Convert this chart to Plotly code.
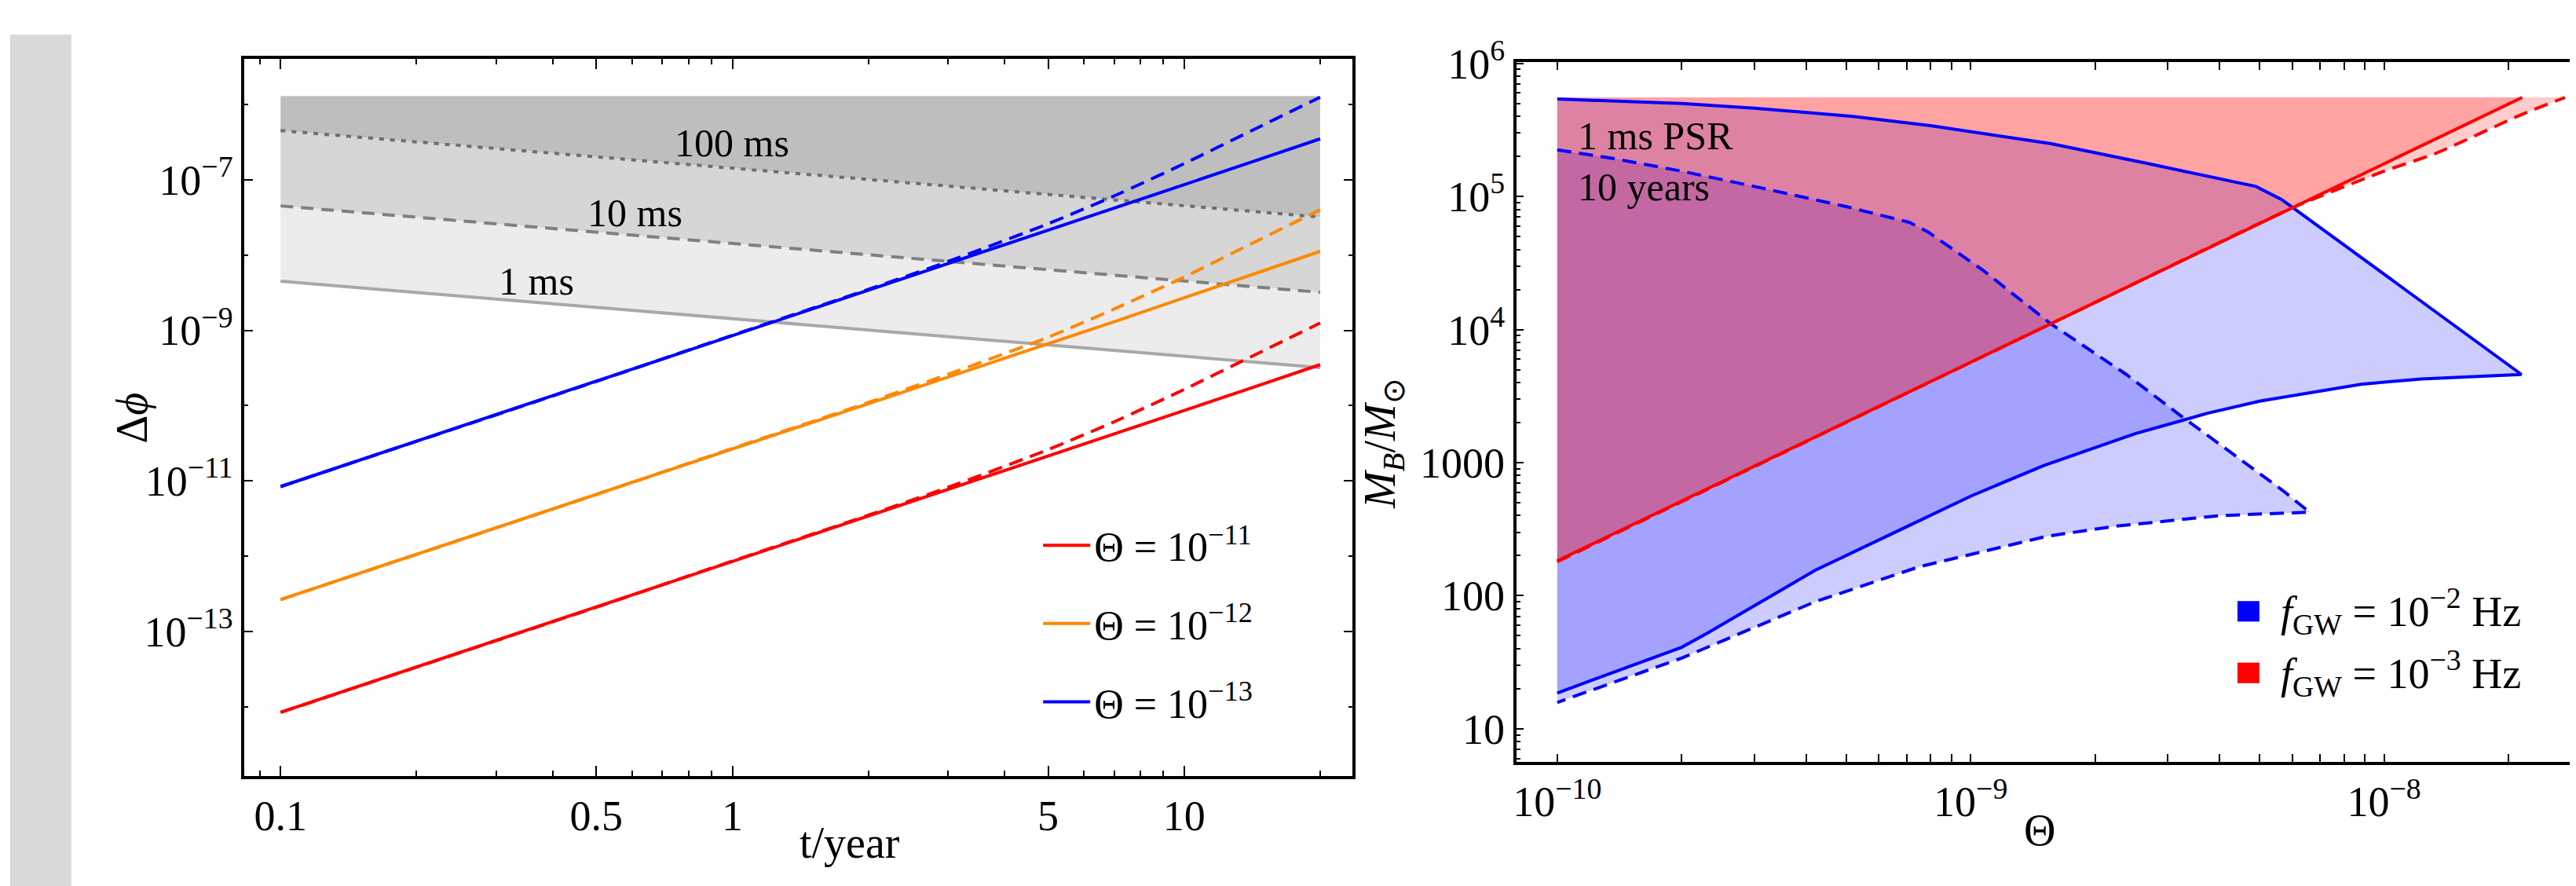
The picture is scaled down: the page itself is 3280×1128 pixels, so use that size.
import plotly.graph_objects as go

# ---------------- Left panel data ----------------
t_grid = [0.1, 0.5, 1, 2, 3, 5, 7, 10, 14, 20]
phi_blue_solid = [8.4e-12, 2.1e-10, 8.5e-10, 3.4e-9, 7.6e-9, 2.1e-8, 4.2e-8, 8.6e-8, 1.7e-7, 3.5e-7]
phi_blue_dashed = [8.4e-12, 2.1e-10, 8.6e-10, 3.5e-9, 8.2e-9, 2.6e-8, 6.1e-8, 1.64e-7, 4.4e-7, 1.25e-6]
phi_orange_solid = [2.65e-13, 6.6e-12, 2.7e-11, 1.07e-10, 2.4e-10, 6.6e-10, 1.3e-9, 2.7e-9, 5.4e-9, 1.12e-8]
phi_orange_dashed = [2.65e-13, 6.6e-12, 2.7e-11, 1.1e-10, 2.6e-10, 8.1e-10, 1.92e-9, 5.1e-9, 1.39e-8, 4.0e-8]
phi_red_solid = [8.4e-15, 2.1e-13, 8.5e-13, 3.4e-12, 7.6e-12, 2.1e-11, 4.2e-11, 8.6e-11, 1.7e-10, 3.5e-10]
phi_red_dashed = [8.4e-15, 2.1e-13, 8.6e-13, 3.5e-12, 8.2e-12, 2.6e-11, 6.1e-11, 1.64e-10, 4.4e-10, 1.25e-9]

t_band = [0.1, 20]
band_top = [1.3e-6, 1.3e-6]
tol_100ms = [4.5e-7, 3.2e-8]
tol_10ms = [4.5e-8, 3.2e-9]
tol_1ms = [4.5e-9, 3.2e-10]

left_legend_names = ["Θ = 10<sup>−11</sup>", "Θ = 10<sup>−12</sup>", "Θ = 10<sup>−13</sup>"]
left_xticks = [0.1, 0.5, 1, 5, 10]
left_xticktext = ["0.1", "0.5", "1", "5", "10"]
left_xminor = [0.09, 0.2, 0.3, 0.4, 0.6, 0.7, 0.8, 0.9, 2, 3, 4, 6, 7, 8, 9, 20]
left_yticks = [1e-13, 1e-11, 1e-9, 1e-7]
left_yticktext = ["10<sup>−13</sup>", "10<sup>−11</sup>", "10<sup>−9</sup>", "10<sup>−7</sup>"]
left_yminor = [1e-14, 1e-12, 1e-10, 1e-8, 1e-6]

# ---------------- Right panel data ----------------
theta_blue_up = [1e-10, 2e-10, 3e-10, 5.2e-10, 8e-10, 1.56e-9, 2.7e-9, 4.9e-9, 5.65e-9, 6.1e-9, 2.15e-8]
M_blue_up = [5.4e5, 5.0e5, 4.6e5, 4.0e5, 3.4e5, 2.5e5, 1.76e5, 1.19e5, 9.5e4, 8.0e4, 4.6e3]
theta_blue_low = [2.15e-8, 1.23e-8, 8.8e-9, 5e-9, 3.74e-9, 2.5e-9, 1.5e-9, 1e-9, 7e-10, 4.2e-10, 2.3e-10, 2e-10, 1e-10]
M_blue_low = [4.6e3, 4.26e3, 3.88e3, 2.9e3, 2.35e3, 1.65e3, 9.5e2, 5.6e2, 3.3e2, 1.55e2, 5.2e1, 4.1e1, 1.86e1]

theta_bd_up = [1e-10, 1.38e-10, 2e-10, 3e-10, 5e-10, 7.1e-10, 7.9e-10, 1.07e-9, 1.56e-9, 2.38e-9, 3.2e-9, 5.7e-9, 6.6e-9]
M_bd_up = [2.24e5, 1.92e5, 1.55e5, 1.19e5, 8.4e4, 6.4e4, 5.4e4, 2.8e4, 1.11e4, 4.6e3, 2.29e3, 6.15e2, 4.25e2]
theta_bd_low = [6.6e-9, 4e-9, 2.24e-9, 1.53e-9, 7.5e-10, 4.2e-10, 2e-10, 1e-10]
M_bd_low = [4.25e2, 4.0e2, 3.33e2, 2.8e2, 1.65e2, 9.0e1, 3.4e1, 1.58e1]

theta_red_solid = [1e-10, 2.16e-8]
M_red_solid = [1.83e2, 5.55e5]
theta_red_dashed = [1e-10, 2e-9, 6.1e-9, 1e-8, 1.33e-8, 2.14e-8, 2.74e-8]
M_red_dashed = [1.80e2, 1.6e4, 8.4e4, 1.55e5, 2.1e5, 4.1e5, 5.55e5]
M_region_top = 5.55e5

right_legend_names = ["<i>f</i><sub>GW</sub> = 10<sup>−2</sup> Hz", "<i>f</i><sub>GW</sub> = 10<sup>−3</sup> Hz"]
right_xticks = [1e-10, 1e-9, 1e-8]
right_xticktext = ["10<sup>−10</sup>", "10<sup>−9</sup>", "10<sup>−8</sup>"]
right_xminor = [k * 1e-10 for k in range(2, 10)] + [k * 1e-9 for k in range(2, 10)] + [2e-8]
right_yticks = [10, 100, 1000, 1e4, 1e5, 1e6]
right_yticktext = ["10", "100", "1000", "10<sup>4</sup>", "10<sup>5</sup>", "10<sup>6</sup>"]
right_yminor = [k * 10 ** e for e in range(0, 6) for k in range(2, 10)]

# ---------------- Styling ----------------
W, H = 3280, 1128
FONT = "Liberation Serif"
BLUE, ORANGE, RED = "#0000ff", "#ff8800", "#ff0000"
BLUE_FILL, RED_FILL = "rgba(0,0,255,0.2)", "rgba(255,0,0,0.2)"
LW = 4
DASH = "18px,10px"

fig = go.Figure()

# Gray tolerance bands
fig.add_trace(go.Scatter(x=t_band, y=band_top, mode="lines", line=dict(width=0), showlegend=False,
                         xaxis="x", yaxis="y", hoverinfo="skip"))
fig.add_trace(go.Scatter(x=t_band, y=tol_100ms, mode="lines", fill="tonexty", fillcolor="#bebebe",
                         line=dict(color="#6e6e6e", width=LW, dash="6px,8px"), showlegend=False,
                         xaxis="x", yaxis="y"))
fig.add_trace(go.Scatter(x=t_band, y=tol_10ms, mode="lines", fill="tonexty", fillcolor="#d6d6d6",
                         line=dict(color="#808080", width=LW, dash="16px,10px"), showlegend=False,
                         xaxis="x", yaxis="y"))
fig.add_trace(go.Scatter(x=t_band, y=tol_1ms, mode="lines", fill="tonexty", fillcolor="#ececec",
                         line=dict(color="#a8a8a8", width=LW), showlegend=False,
                         xaxis="x", yaxis="y"))

# Colored curves
series = [
    (phi_red_solid, phi_red_dashed, RED, left_legend_names[0]),
    (phi_orange_solid, phi_orange_dashed, ORANGE, left_legend_names[1]),
    (phi_blue_solid, phi_blue_dashed, BLUE, left_legend_names[2]),
]
for i, (sol, dsh, col, name) in enumerate(series):
    fig.add_trace(go.Scatter(x=t_grid, y=dsh, mode="lines", line=dict(color=col, width=LW, dash=DASH, shape="spline", smoothing=0.6),
                             showlegend=False, xaxis="x", yaxis="y"))
    fig.add_trace(go.Scatter(x=t_grid, y=sol, mode="lines", line=dict(color=col, width=LW),
                             name=name, legendgroup="g%d" % i, showlegend=True, legend="legend",
                             xaxis="x", yaxis="y"))

# ---------------- Right panel ----------------
fig.add_trace(go.Scatter(x=theta_bd_up + theta_bd_low, y=M_bd_up + M_bd_low, mode="lines", fill="toself",
                         fillcolor=BLUE_FILL, line=dict(width=0), showlegend=False, xaxis="x2", yaxis="y2"))
fig.add_trace(go.Scatter(x=theta_blue_up + theta_blue_low, y=M_blue_up + M_blue_low, mode="lines", fill="toself",
                         fillcolor=BLUE_FILL, line=dict(width=0), showlegend=False, xaxis="x2", yaxis="y2"))
fig.add_trace(go.Scatter(x=theta_red_dashed + [theta_red_dashed[-1], theta_red_dashed[0]],
                         y=M_red_dashed + [M_region_top, M_region_top], mode="lines", fill="toself",
                         fillcolor=RED_FILL, line=dict(width=0), showlegend=False, xaxis="x2", yaxis="y2"))
fig.add_trace(go.Scatter(x=theta_red_solid + [theta_red_solid[-1], theta_red_solid[0]],
                         y=M_red_solid + [M_region_top, M_region_top], mode="lines", fill="toself",
                         fillcolor=RED_FILL, line=dict(width=0), showlegend=False, xaxis="x2", yaxis="y2"))
fig.add_trace(go.Scatter(x=theta_bd_up + theta_bd_low, y=M_bd_up + M_bd_low, mode="lines",
                         line=dict(color=BLUE, width=LW, dash=DASH), showlegend=False, xaxis="x2", yaxis="y2"))
fig.add_trace(go.Scatter(x=theta_blue_up + theta_blue_low, y=M_blue_up + M_blue_low, mode="lines",
                         line=dict(color=BLUE, width=LW), showlegend=False, xaxis="x2", yaxis="y2"))
fig.add_trace(go.Scatter(x=theta_red_dashed, y=M_red_dashed, mode="lines",
                         line=dict(color=RED, width=LW, dash=DASH, shape="spline", smoothing=0.5),
                         showlegend=False, xaxis="x2", yaxis="y2"))
fig.add_trace(go.Scatter(x=theta_red_solid, y=M_red_solid, mode="lines",
                         line=dict(color=RED, width=LW), showlegend=False, xaxis="x2", yaxis="y2"))

tickfont = dict(family=FONT, size=54, color="black")
axis_common = dict(type="log", showline=True, linewidth=4, linecolor="black", mirror="ticks",
                   ticks="inside", tickwidth=2, tickcolor="black", showgrid=False, zeroline=False,
                   tickfont=tickfont, tickmode="array")

# right-panel legend swatches (legend decoration)
swatch_colors = [BLUE, RED]
swatch_rows = [(745, 772), (826, 853)]
shapes = [dict(type="rect", xref="paper", yref="paper", x0=0, x1=78 / W, y0=0, y1=1,
               fillcolor="#d9d9d9", line=dict(width=0), layer="below")]
for col, (ya, yb) in zip(swatch_colors, swatch_rows):
    shapes.append(dict(type="rect", xref="paper", yref="paper", x0=2842 / W, x1=2870 / W,
                       y0=1 - yb / H, y1=1 - ya / H, fillcolor=col, line=dict(width=0), layer="above"))

fig.update_layout(
    width=W, height=H,
    margin=dict(l=0, r=0, t=0, b=0),
    paper_bgcolor="white", plot_bgcolor="white",
    font=dict(family=FONT, color="black"),
    xaxis=dict(axis_common, domain=[299 / W, 1713 / W], anchor="y", range=[-1.0798, 1.373],
               tickvals=left_xticks, ticktext=left_xticktext, ticklen=13,
               minor=dict(tickmode="array", tickvals=left_xminor, ticks="inside", ticklen=7, tickwidth=2, tickcolor="black")),
    yaxis=dict(axis_common, domain=[1 - 975 / H, 1 - 32 / H], anchor="x", range=[-14.92, -5.394],
               tickvals=left_yticks, ticktext=left_yticktext, ticklen=11,
               minor=dict(tickmode="array", tickvals=left_yminor, ticks="inside", ticklen=5, tickwidth=2, tickcolor="black")),
    xaxis2=dict(axis_common, domain=[1922 / W, 3278 / W], anchor="y2", range=[-10.0986, -7.528],
                tickvals=right_xticks, ticktext=right_xticktext, ticklen=10,
                minor=dict(tickmode="array", tickvals=right_xminor, ticks="inside", ticklen=10, tickwidth=2, tickcolor="black")),
    yaxis2=dict(axis_common, domain=[1 - 957 / H, 1 - 36 / H], anchor="x2", range=[0.749, 6.011],
                tickvals=right_yticks, ticktext=right_yticktext, ticklen=9,
                minor=dict(tickmode="array", tickvals=right_yminor, ticks="inside", ticklen=5, tickwidth=2, tickcolor="black")),
    legend=dict(x=1313 / W, y=1 - 630 / H, xanchor="left", yanchor="top", bgcolor="rgba(0,0,0,0)",
                font=dict(family=FONT, size=52, color="black"), traceorder="grouped", tracegroupgap=29,
                itemwidth=60),
    shapes=shapes,
    showlegend=True,
)

ann_font = dict(family=FONT, size=50, color="black")
annotations = [
    dict(text="100 ms", x=-0.0009, y=-6.515, xref="x", yref="y", showarrow=False, font=ann_font),
    dict(text="10 ms", x=-0.216, y=-7.444, xref="x", yref="y", showarrow=False, font=ann_font),
    dict(text="1 ms", x=-0.4345, y=-8.343, xref="x", yref="y", showarrow=False, font=ann_font),
    dict(text="1 ms PSR", x=-9.9545, y=5.457, xref="x2", yref="y2", xanchor="left", showarrow=False, font=ann_font),
    dict(text="10 years", x=-9.9545, y=5.074, xref="x2", yref="y2", xanchor="left", showarrow=False, font=ann_font),
    dict(text="t/year", x=1005 / W, y=1 - 1097 / H, xref="paper", yref="paper", showarrow=False,
         font=dict(family=FONT, size=56, color="black")),
    dict(text="Θ", x=2612 / W, y=1 - 1080 / H, xref="paper", yref="paper", showarrow=False,
         font=dict(family=FONT, size=56, color="black")),
    dict(text="Δ<i>ϕ</i>", x=122 / W, y=1 - 504 / H, xref="paper", yref="paper", showarrow=False, textangle=-90,
         font=dict(family=FONT, size=56, color="black")),
    dict(text="<i>M</i><sub><i>B</i></sub>/<i>M</i><sub>⊙</sub>", x=1752 / W, y=1 - 538 / H, xref="paper", yref="paper",
         showarrow=False, textangle=-90, font=dict(family=FONT, size=56, color="black")),
]
for name, yc in zip(right_legend_names, [758, 840]):
    annotations.append(dict(text=name, x=2895 / W, y=1 - yc / H, xref="paper", yref="paper",
                            xanchor="left", yanchor="middle", showarrow=False,
                            font=dict(family=FONT, size=54, color="black")))
fig.update_layout(annotations=annotations)

fig.write_html("out.html")
